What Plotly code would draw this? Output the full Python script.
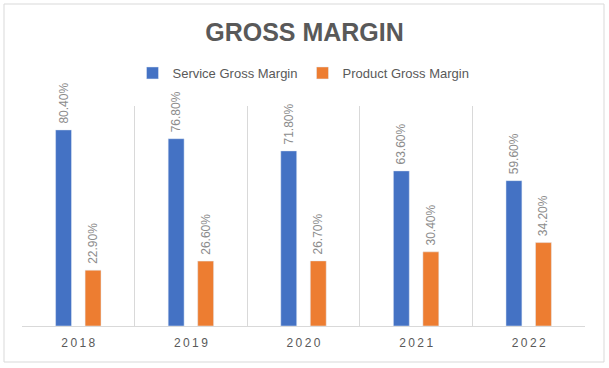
import plotly.graph_objects as go

years = ["2018", "2019", "2020", "2021", "2022"]
tick_labels = ["2\u20090\u20091\u20098", "2\u20090\u20091\u20099", "2\u20090\u20092\u20090", "2\u20090\u20092\u20091", "2\u20090\u20092\u20092"]
service_margin = [80.40, 76.80, 71.80, 63.60, 59.60]
product_margin = [22.90, 26.60, 26.70, 30.40, 34.20]

label_font = dict(family="Liberation Sans, Arial", size=12, color="#8c8c8c")

fig = go.Figure()
fig.add_trace(go.Bar(
    x=years, y=service_margin, name="Service Gross Margin",
    marker_color="#4472C4",
    text=[f"\u00a0{v:.2f}%" for v in service_margin],
    textposition="outside", textangle=-90, textfont=label_font,
    constraintext="none", cliponaxis=False,
))
fig.add_trace(go.Bar(
    x=years, y=product_margin, name="Product Gross Margin",
    marker_color="#ED7D31",
    text=[f"\u00a0{v:.2f}%" for v in product_margin],
    textposition="outside", textangle=-90, textfont=label_font,
    constraintext="none", cliponaxis=False,
))

L, R, T, B = 22, 24, 106, 42
W, H = 609, 368
pw, ph = W - L - R, H - T - B

def px_x(p):
    return (p - L) / pw

def px_y(p):
    return (H - B - p) / ph

fig.update_layout(
    width=W, height=H,
    margin=dict(l=L, r=R, t=T, b=B),
    paper_bgcolor="white", plot_bgcolor="white",
    barmode="group", bargap=0.476, bargroupgap=0.46,
    title=dict(text="<b>GROSS MARGIN</b>", x=0.5, xanchor="center",
               y=1 - 32 / H, yanchor="middle",
               font=dict(family="Liberation Sans, Arial", size=25, color="#595959")),
    legend=dict(orientation="h", x=0.5, xanchor="center",
                y=px_y(73), yanchor="middle",
                font=dict(family="Liberation Sans, Arial", size=13, color="#595959"),
                itemwidth=30, tracegroupgap=0),
    showlegend=True,
)
fig.update_xaxes(
    type="category", tickmode="array", tickvals=years, ticktext=tick_labels,
    tickson="boundaries", showgrid=True, gridcolor="#d9d9d9", gridwidth=1,
    showline=True, linecolor="#d9d9d9", linewidth=1, ticks="",
    tickfont=dict(family="Liberation Sans, Arial", size=12, color="#595959"),
    ticklabelstandoff=6,
)
fig.update_yaxes(range=[0, 90.2], visible=False, showgrid=False, zeroline=False)

fig.add_shape(type="rect", xref="paper", yref="paper",
              x0=px_x(4), x1=px_x(604), y0=px_y(362), y1=px_y(4),
              line=dict(color="#d9d9d9", width=1), fillcolor="rgba(0,0,0,0)",
              layer="below")

fig.write_html("out.html", config={"displayModeBar": False},
               post_script="document.body.style.margin='0';document.body.style.overflow='hidden';")
